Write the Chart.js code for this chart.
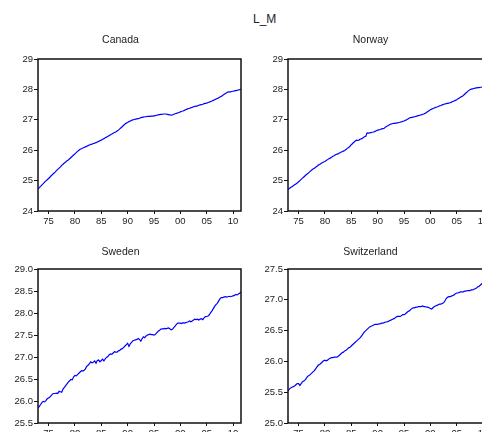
<!DOCTYPE html>
<html>
<head>
<meta charset="utf-8">
<script src="https://cdn.jsdelivr.net/npm/chart.js@4"></script>
<style>
  html, body { margin: 0; padding: 0; background: #fff; }
  body { width: 482px; height: 432px; overflow: hidden; position: relative; }
  canvas { position: absolute; }
  #mainTitle {
    position: absolute; left: 253px; top: 12px;
    font: 12px "Liberation Sans", Arial, sans-serif; line-height: 14px; color: #222;
  }
</style>
</head>
<body>
<div id="mainTitle">L_M</div>
<canvas id="cCanada" width="243" height="200" style="left:0px;top:28px"></canvas>
<canvas id="cNorway" width="243" height="200" style="left:250px;top:28px"></canvas>
<canvas id="cSweden" width="243" height="200" style="left:0px;top:240px"></canvas>
<canvas id="cSwitzerland" width="243" height="200" style="left:250px;top:240px"></canvas>
<script>
// quarterly series, 1973Q1 .. 2011Q3
const firstYear = 1973;
const countries = ['Canada', 'Norway', 'Sweden', 'Switzerland'];

const canada = [
  24.72, 24.77, 24.81, 24.86,  24.90, 24.95, 24.99, 25.03,  25.07, 25.11, 25.16, 25.20,
  25.24, 25.28, 25.33, 25.37,  25.41, 25.45, 25.50, 25.54,  25.58, 25.61, 25.65, 25.68,
  25.72, 25.76, 25.80, 25.84,  25.88, 25.92, 25.96, 26.00,  26.03, 26.05, 26.07, 26.09,
  26.11, 26.13, 26.15, 26.17,  26.19, 26.20, 26.22, 26.23,  26.25, 26.27, 26.29, 26.31,
  26.33, 26.36, 26.38, 26.41,  26.43, 26.46, 26.48, 26.51,  26.53, 26.56, 26.58, 26.60,
  26.63, 26.66, 26.70, 26.74,  26.78, 26.82, 26.86, 26.89,  26.91, 26.94, 26.96, 26.98,
  27.00, 27.01, 27.02, 27.03,  27.04, 27.05, 27.07, 27.08,  27.09, 27.10, 27.10, 27.11,
  27.11, 27.11, 27.12, 27.12,  27.13, 27.14, 27.15, 27.16,  27.17, 27.18, 27.18, 27.19,
  27.19, 27.19, 27.18, 27.17,  27.16, 27.15, 27.16, 27.18,  27.20, 27.21, 27.23, 27.24,
  27.26, 27.28, 27.29, 27.31,  27.33, 27.35, 27.37, 27.38,  27.40, 27.41, 27.43, 27.44,
  27.45, 27.46, 27.48, 27.49,  27.50, 27.51, 27.53, 27.54,  27.55, 27.57, 27.58, 27.60,
  27.62, 27.64, 27.66, 27.68,  27.70, 27.72, 27.75, 27.77,  27.80, 27.83, 27.86, 27.89,
  27.91, 27.92, 27.92, 27.93,  27.94, 27.95, 27.96, 27.97,  27.98, 27.99, 28.00
];

const norway = [
  24.71, 24.74, 24.77, 24.80,  24.83, 24.86, 24.89, 24.92,  24.96, 25.00, 25.04, 25.08,
  25.12, 25.16, 25.20, 25.23,  25.27, 25.31, 25.35, 25.38,  25.41, 25.44, 25.47, 25.51,
  25.53, 25.56, 25.59, 25.61,  25.63, 25.66, 25.69, 25.72,  25.74, 25.77, 25.80, 25.82,
  25.85, 25.87, 25.88, 25.91,  25.93, 25.95, 25.97, 25.99,  26.02, 26.06, 26.09, 26.13,
  26.18, 26.22, 26.26, 26.30,  26.33, 26.32, 26.34, 26.37,  26.38, 26.41, 26.44, 26.46,
  26.57, 26.56, 26.57, 26.58,  26.59, 26.60, 26.62, 26.64,  26.66, 26.67, 26.68, 26.70,
  26.71, 26.72, 26.76, 26.79,  26.81, 26.84, 26.86, 26.87,  26.88, 26.88, 26.89, 26.90,
  26.91, 26.92, 26.93, 26.95,  26.96, 26.98, 27.00, 27.03,  27.06, 27.07, 27.08, 27.09,
  27.10, 27.11, 27.13, 27.14,  27.15, 27.16, 27.18, 27.19,  27.21, 27.24, 27.27, 27.30,
  27.33, 27.35, 27.37, 27.39,  27.41, 27.42, 27.44, 27.46,  27.47, 27.49, 27.51, 27.52,
  27.53, 27.54, 27.55, 27.56,  27.58, 27.60, 27.62, 27.64,  27.66, 27.69, 27.72, 27.75,
  27.77, 27.80, 27.84, 27.88,  27.92, 27.96, 27.99, 28.01,  28.02, 28.03, 28.04, 28.05,
  28.06, 28.06, 28.07, 28.07,  28.08, 28.08, 28.09, 28.09,  28.10, 28.10, 28.11
];

const sweden = [
  25.84, 25.88, 25.92, 25.97,  25.99, 25.98, 26.01, 26.05,  26.07, 26.09, 26.12, 26.16,
  26.17, 26.17, 26.18, 26.17,  26.22, 26.21, 26.20, 26.27,  26.31, 26.35, 26.39, 26.43,
  26.46, 26.49, 26.48, 26.55,  26.58, 26.57, 26.60, 26.63,  26.66, 26.69, 26.68, 26.70,
  26.73, 26.79, 26.81, 26.85,  26.89, 26.87, 26.88, 26.91,  26.86, 26.92, 26.93, 26.89,
  26.92, 26.95, 26.91, 26.96,  26.99, 27.01, 27.05, 27.07,  27.06, 27.09, 27.12, 27.11,
  27.11, 27.14, 27.15, 27.18,  27.19, 27.22, 27.25, 27.28,  27.31, 27.24, 27.30, 27.33,
  27.37, 27.38, 27.39, 27.40,  27.42, 27.40, 27.36, 27.42,  27.46, 27.44, 27.48, 27.50,
  27.51, 27.52, 27.51, 27.51,  27.50, 27.51, 27.55, 27.58,  27.60, 27.63, 27.64, 27.64,
  27.65, 27.64, 27.65, 27.66,  27.64, 27.62, 27.63, 27.67,  27.70, 27.74, 27.77, 27.77,
  27.77, 27.76, 27.78, 27.77,  27.78, 27.79, 27.80, 27.82,  27.80, 27.82, 27.84, 27.86,
  27.85, 27.86, 27.84, 27.86,  27.87, 27.85, 27.89, 27.92,  27.92, 27.93, 27.96, 28.01,
  28.05, 28.10, 28.15, 28.19,  28.22, 28.27, 28.32, 28.35,  28.35, 28.36, 28.37, 28.36,
  28.37, 28.38, 28.37, 28.38,  28.39, 28.40, 28.42, 28.41,  28.43, 28.45, 28.48
];

const switzerland = [
  25.52, 25.55, 25.57, 25.58,  25.59, 25.60, 25.62, 25.64,  25.64, 25.61, 25.64, 25.67,
  25.68, 25.70, 25.73, 25.76,  25.77, 25.79, 25.81, 25.83,  25.85, 25.88, 25.91, 25.94,
  25.95, 25.97, 25.99, 26.01,  26.02, 26.01, 26.02, 26.04,  26.05, 26.06, 26.06, 26.07,
  26.07, 26.07, 26.08, 26.10,  26.12, 26.14, 26.15, 26.17,  26.18, 26.20, 26.22, 26.23,
  26.25, 26.27, 26.29, 26.31,  26.33, 26.35, 26.37, 26.39,  26.42, 26.45, 26.48, 26.50,
  26.52, 26.54, 26.56, 26.57,  26.58, 26.59, 26.60, 26.60,  26.60, 26.61, 26.61, 26.62,
  26.62, 26.63, 26.64, 26.64,  26.65, 26.66, 26.67, 26.68,  26.69, 26.70, 26.72, 26.73,
  26.73, 26.73, 26.74, 26.76,  26.76, 26.77, 26.79, 26.81,  26.82, 26.84, 26.86, 26.87,
  26.87, 26.88, 26.88, 26.89,  26.89, 26.89, 26.90, 26.89,  26.89, 26.88, 26.88, 26.87,
  26.86, 26.85, 26.87, 26.89,  26.90, 26.91, 26.92, 26.93,  26.93, 26.94, 26.95, 26.98,
  27.02, 27.04, 27.05, 27.05,  27.06, 27.07, 27.08, 27.10,  27.11, 27.11, 27.12, 27.13,
  27.13, 27.13, 27.14, 27.14,  27.15, 27.15, 27.15, 27.16,  27.16, 27.17, 27.18, 27.19,
  27.21, 27.22, 27.24, 27.26,  27.28, 27.30, 27.31, 27.33,  27.34, 27.35, 27.37
];

// axis ticks
const xTickYears = [1975, 1980, 1985, 1990, 1995, 2000, 2005, 2010];
const yTicksCanada = [24, 25, 26, 27, 28, 29];
const yTicksNorway = [24, 25, 26, 27, 28, 29];
const yTicksSweden = [25.5, 26.0, 26.5, 27.0, 27.5, 28.0, 28.5, 29.0];
const yTicksSwitzerland = [25.0, 25.5, 26.0, 26.5, 27.0, 27.5];

Chart.defaults.font.family = '"Liberation Sans", Arial, sans-serif';
Chart.defaults.color = '#222';

// box round the plot area
const frameBox = {
  id: 'frameBox',
  afterDraw(chart) {
    const { ctx, chartArea: a } = chart;
    ctx.save();
    ctx.strokeStyle = '#111';
    ctx.lineWidth = 1.5;
    ctx.strokeRect(a.left, a.top, a.right - a.left, a.bottom - a.top);
    ctx.restore();
  }
};

function makePanel(canvasId, name, values, yTicks, decimals, titlePad) {
  const points = values.map((v, i) => ({ x: firstYear + i / 4, y: v }));
  const ctx = document.getElementById(canvasId).getContext('2d');
  return new Chart(ctx, {
    type: 'line',
    data: {
      datasets: [{
        label: name,
        data: points,
        borderColor: '#0000ff',
        borderWidth: 1.2,
        pointRadius: 0,
        tension: 0,
        fill: false
      }]
    },
    options: {
      responsive: false,
      animation: false,
      devicePixelRatio: 1,
      layout: { padding: { top: 0, right: 2, bottom: 0, left: 0 } },
      plugins: {
        legend: { display: false },
        tooltip: { enabled: false },
        title: {
          display: true,
          text: name,
          color: '#222',
          font: { size: 10.5, weight: 'normal' },
          padding: titlePad
        }
      },
      scales: {
        x: {
          type: 'linear',
          min: firstYear,
          max: 2011.5,
          afterFit: s => { s.height = 17; },
          afterBuildTicks: s => { s.ticks = xTickYears.map(v => ({ value: v })); },
          grid: { drawOnChartArea: false, drawTicks: true, tickLength: 3, color: '#111' },
          border: { display: false },
          ticks: {
            padding: 2,
            maxRotation: 0,
            autoSkip: false,
            font: { size: 9.5 },
            color: '#222',
            callback: v => String(v % 100).padStart(2, '0')
          }
        },
        y: {
          type: 'linear',
          min: yTicks[0],
          max: yTicks[yTicks.length - 1],
          afterFit: s => { s.width = 38; },
          afterBuildTicks: s => { s.ticks = yTicks.map(v => ({ value: v })); },
          grid: { drawOnChartArea: false, drawTicks: true, tickLength: 4, color: '#111' },
          border: { display: false },
          ticks: {
            padding: 1,
            autoSkip: false,
            font: { size: 9.5 },
            color: '#222',
            callback: v => Number(v).toFixed(decimals)
          }
        }
      }
    },
    plugins: [frameBox]
  });
}

makePanel('cCanada', countries[0], canada, yTicksCanada, 0, { top: 5.7, bottom: 12.7 });
makePanel('cNorway', countries[1], norway, yTicksNorway, 0, { top: 5.7, bottom: 12.7 });
makePanel('cSweden', countries[2], sweden, yTicksSweden, 1, { top: 6, bottom: 10.4 });
makePanel('cSwitzerland', countries[3], switzerland, yTicksSwitzerland, 1, { top: 6, bottom: 10.4 });
</script>
</body>
</html>
